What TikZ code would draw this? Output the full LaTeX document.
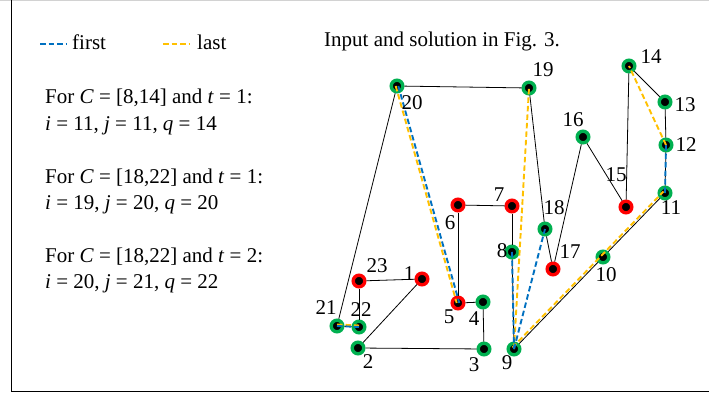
\documentclass[tikz,border=0pt]{standalone}
\usepackage{fontspec}
\setmainfont{Liberation Serif}
\definecolor{ogreen}{RGB}{0,176,80}
\definecolor{ored}{RGB}{255,0,0}
\definecolor{oblue}{RGB}{0,112,192}
\definecolor{oyellow}{RGB}{255,192,0}
\begin{document}
\begin{tikzpicture}[x=1pt,y=-1pt,
  gnode/.style={circle,fill=black,draw=ogreen,line width=3.4pt,minimum size=11.6pt,inner sep=0pt},
  rnode/.style={gnode,draw=ored},
  edge/.style={line width=0.8pt,draw=black},
  bdash/.style={draw=oblue,line width=1.9pt,dash pattern=on 5.5pt off 3pt},
  ydash/.style={draw=oyellow,line width=1.9pt,dash pattern=on 5.5pt off 3pt},
  lbl/.style={font=\fontsize{21}{25}\selectfont,inner sep=0pt},
  txt/.style={font=\fontsize{21}{25}\selectfont,inner sep=0pt,anchor=base west}]
\useasboundingbox (0,0) rectangle (709,396);
% frame
\draw[gray!35,line width=1pt] (0,0.5) -- (709,0.5);
\draw[line width=1pt] (11,0) -- (11,391) -- (709,391);
% legend
\coordinate (lb1) at (40,44); \coordinate (lb2) at (66,44);
\coordinate (ly1) at (163,44); \coordinate (ly2) at (190,44);
\draw[bdash] (lb1) -- (lb2);
\draw[ydash] (ly1) -- (ly2);
\node[txt] (tfirst) at (72,50) {first};
\node[txt] (tlast) at (197,50) {last};
% texts
\node[txt] (tA1) at (45,103) {For \textit{C} = [8,14] and \textit{t} = 1:};
\node[txt] (tA2) at (45,130) {\textit{i} = 11, \textit{j} = 11, \textit{q} = 14};
\node[txt] (tB1) at (45,183) {For \textit{C} = [18,22] and \textit{t} = 1:};
\node[txt] (tB2) at (45,209) {\textit{i} = 19, \textit{j} = 20, \textit{q} = 20};
\node[txt] (tC1) at (45,262) {For \textit{C} = [18,22] and \textit{t} = 2:};
\node[txt] (tC2) at (45,288) {\textit{i} = 20, \textit{j} = 21, \textit{q} = 22};
\node[txt] (title) at (324,47) {Input and solution in Fig. 3.};
% nodes
\node[rnode] (n1) at (422,279) {};
\node[gnode] (n2) at (358,348) {};
\node[gnode] (n3) at (484,349) {};
\node[gnode] (n4) at (483,302) {};
\node[rnode] (n5) at (458,303) {};
\node[rnode] (n6) at (458,205) {};
\node[rnode] (n7) at (512,206) {};
\node[gnode] (n8) at (512,252) {};
\node[gnode] (n9) at (514,349) {};
\node[gnode] (n10) at (603,257) {};
\node[gnode] (n11) at (665,193) {};
\node[gnode] (n12) at (666,145) {};
\node[gnode] (n13) at (665,102) {};
\node[gnode] (n14) at (629,66) {};
\node[rnode] (n15) at (626,207) {};
\node[gnode] (n16) at (583,137) {};
\node[rnode] (n17) at (553,269) {};
\node[gnode] (n18) at (545,229) {};
\node[gnode] (n19) at (529,88) {};
\node[gnode] (n20) at (397,86) {};
\node[gnode] (n21) at (337,326) {};
\node[gnode] (n22) at (359,327) {};
\node[rnode] (n23) at (359,281) {};
% tour edges
\draw[edge] (n1) -- (n2);
\draw[edge] (n2) -- (n3);
\draw[edge] (n3) -- (n4);
\draw[edge] (n4) -- (n5);
\draw[edge] (n5) -- (n6);
\draw[edge] (n6) -- (n7);
\draw[edge] (n7) -- (n8);
\draw[edge] (n8) -- (n9);
\draw[edge] (n9) -- (n10);
\draw[edge] (n10) -- (n11);
\draw[edge] (n11) -- (n12);
\draw[edge] (n12) -- (n13);
\draw[edge] (n13) -- (n14);
\draw[edge] (n14) -- (n15);
\draw[edge] (n15) -- (n16);
\draw[edge] (n16) -- (n17);
\draw[edge] (n17) -- (n18);
\draw[edge] (n18) -- (n19);
\draw[edge] (n19) -- (n20);
\draw[edge] (n20) -- (n21);
\draw[edge] (n21) -- (n22);
\draw[edge] (n22) -- (n23);
\draw[edge] (n23) -- (n1);
% last (yellow)
\draw[ydash] ([xshift=-1.3pt]n20.center) -- ([xshift=-1.3pt]n5.center);
\draw[ydash] ([yshift=1.5pt]n21.center) -- ([yshift=1.5pt]n22.center);
\draw[ydash] (n9.center) -- (n19.center);
\draw[ydash] ([xshift=-1.5pt,yshift=1.5pt]n9.center) -- ([xshift=-1.5pt,yshift=1.5pt]n11.center);
\draw[ydash] (n12.center) -- (n14.center);
% first (blue)
\draw[bdash] ([xshift=1.3pt]n20.center) -- ([xshift=1.3pt]n5.center);
\draw[bdash] (n21.center) -- (n22.center);
\draw[bdash] (n8.center) -- (n9.center);
\draw[bdash] (n9.center) -- (n18.center);
\draw[bdash] (n11.center) -- (n12.center);
% labels
\node[lbl] (l1) at (409,274) {1};
\node[lbl] (l2) at (368,362) {2};
\node[lbl] (l3) at (474,365) {3};
\node[lbl] (l4) at (474,319) {4};
\node[lbl] (l5) at (449,317) {5};
\node[lbl] (l6) at (450,223) {6};
\node[lbl] (l7) at (499,195) {7};
\node[lbl] (l8) at (502,251) {8};
\node[lbl] (l9) at (507,363) {9};
\node[lbl] (l10) at (606,275) {10};
\node[lbl] (l11) at (671,208) {11};
\node[lbl] (l12) at (686,145) {12};
\node[lbl] (l13) at (685,105) {13};
\node[lbl] (l14) at (651,57) {14};
\node[lbl] (l15) at (616,175) {15};
\node[lbl] (l16) at (573,120) {16};
\node[lbl] (l17) at (570,252) {17};
\node[lbl] (l18) at (554,208) {18};
\node[lbl] (l19) at (543,70) {19};
\node[lbl] (l20) at (412,103) {20};
\node[lbl] (l21) at (326,308) {21};
\node[lbl] (l22) at (361,310) {22};
\node[lbl] (l23) at (377,266) {23};
\end{tikzpicture}
\end{document}
